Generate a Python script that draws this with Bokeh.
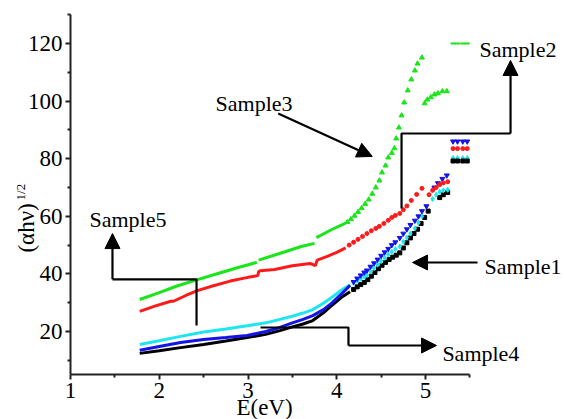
import math
from bokeh.plotting import figure
from bokeh.models import (Range1d, FixedTicker, Arrow, NormalHead, Label, LinearAxis)
from bokeh.embed import file_html
from bokeh.resources import INLINE

nan = float("nan")

# ---------------- data ----------------
# Sample3 (green)
g_line_e = [1.78, 2.0, 2.2, 2.43, 2.7, 2.9, 3.1, nan, 3.12, 3.4, 3.6, 3.75, nan, 3.77, 3.95, 4.1]
g_line_v = [31.1, 33.5, 35.8, 38.0, 40.5, 42.3, 44.0, nan, 44.8, 47.5, 49.5, 50.6, nan, 52.6, 55.5, 57.6]
g_pts_e = [4.12, 4.16, 4.20, 4.24, 4.28, 4.32, 4.36, 4.40, 4.44, 4.48, 4.51, 4.55, 4.58,
           4.62, 4.65, 4.67, 4.70, 4.73, 4.76, 4.80, 4.84, 4.88, 4.91, 4.96]
g_pts_v = [58.0, 59.0, 60.2, 61.5, 62.8, 64.3, 65.8, 67.8, 70.0, 72.4, 75.2, 77.6, 80.4,
           82.0, 83.6, 87.0, 90.8, 95.0, 99.5, 103.7, 107.5, 110.6, 113.0, 115.1]
g2_e = [4.99, 5.02, 5.06, 5.10, 5.14, 5.19, 5.24]
g2_v = [99.2, 100.5, 101.3, 102.3, 102.7, 103.4, 103.4]

# red
r_line_e = [1.78, 1.95, 2.13, 2.16, 2.3, 2.43, 2.6, 2.8, 3.0, 3.11, 3.12, 3.14, 3.3, 3.5,
            3.7, 3.76, 3.78, 3.9, 4.0, 4.1]
r_line_v = [27.0, 28.8, 30.5, 30.5, 32.5, 34.2, 35.8, 37.5, 38.8, 39.4, 40.8, 41.1, 41.5, 42.8,
            43.6, 42.9, 44.8, 46.2, 47.5, 49.0]
r_pts_e = [4.14, 4.19, 4.24, 4.29, 4.34, 4.39, 4.44, 4.48, 4.53, 4.58, 4.62, 4.66, 4.71,
           4.75, 4.79, 4.84, 4.90, 4.96]
r_pts_v = [50.0, 51.0, 52.0, 53.0, 54.0, 55.0, 55.8, 56.5, 57.5, 58.6, 59.6, 60.3, 61.0,
           62.3, 63.6, 65.5, 67.6, 69.7]
r2_e = [5.04, 5.08, 5.12, 5.16, 5.20, 5.25]
r2_v = [67.5, 69.0, 70.0, 71.0, 71.6, 72.0]

# blue
b_line_e = [1.78, 2.0, 2.24, 2.5, 2.75, 2.99, 3.2, 3.36, 3.5, 3.62, 3.73, 3.85, 3.95, 4.05, 4.15]
b_line_v = [13.5, 14.8, 16.2, 17.2, 17.9, 18.6, 20.0, 21.4, 23.0, 24.2, 25.5, 27.6, 30.0, 33.0, 36.0]
b_pts_e = [4.19, 4.23, 4.27, 4.31, 4.34, 4.38, 4.42, 4.46, 4.50, 4.54, 4.58, 4.62, 4.66,
           4.71, 4.75, 4.79, 4.83, 4.88, 4.92, 4.96, 5.01]
b_pts_v = [37.2, 38.4, 39.5, 40.5, 41.2, 42.5, 43.7, 45.0, 46.3, 47.5, 48.7, 50.0, 51.0,
           52.5, 54.0, 55.5, 57.0, 58.5, 60.0, 61.8, 63.5]
b2_e = [5.10, 5.14, 5.19, 5.24]
b2_v = [70.0, 71.5, 73.0, 74.2]

# cyan
c_line_e = [1.78, 2.0, 2.24, 2.5, 2.75, 2.99, 3.2, 3.36, 3.5, 3.62, 3.73, 3.85, 3.95, 4.05, 4.15]
c_line_v = [15.5, 16.8, 18.3, 19.8, 20.9, 22.0, 23.0, 24.2, 25.3, 26.4, 27.6, 29.8, 32.0, 34.3, 36.2]
c_pts_e = [4.19, 4.23, 4.27, 4.31, 4.34, 4.38, 4.42, 4.46, 4.50, 4.54, 4.58, 4.62, 4.66,
           4.71, 4.75, 4.79, 4.83, 4.88, 4.92, 4.96]
c_pts_v = [36.9, 37.6, 38.3, 39.0, 39.6, 40.8, 42.0, 43.2, 44.4, 45.6, 46.7, 47.7, 48.6,
           49.5, 51.2, 52.6, 54.0, 55.8, 57.8, 60.0]
c2_e = [5.08, 5.12, 5.16, 5.20, 5.25]
c2_v = [66.0, 67.5, 68.5, 69.0, 69.2]

# black
k_line_e = [1.78, 2.0, 2.24, 2.5, 2.75, 2.99, 3.2, 3.36, 3.5, 3.62, 3.73, 3.85, 3.95, 4.05, 4.15]
k_line_v = [12.4, 13.3, 14.4, 15.5, 16.7, 17.9, 19.0, 20.3, 21.6, 22.6, 23.8, 26.5, 29.2, 31.8, 33.8]
k_pts_e = [4.19, 4.23, 4.27, 4.31, 4.35, 4.39, 4.43, 4.47, 4.51, 4.55, 4.59, 4.63, 4.67,
           4.71, 4.75, 4.79, 4.83, 4.87, 4.91, 4.95, 4.99, 5.03]
k_pts_v = [34.6, 35.5, 36.3, 37.0, 38.0, 39.2, 40.5, 41.8, 43.0, 44.0, 45.0, 45.8, 46.5,
           47.3, 49.0, 50.8, 52.5, 54.0, 55.5, 57.5, 59.6, 61.8]
k2_e = [5.16, 5.20, 5.25]
k2_v = [66.5, 67.5, 68.3]

# legend-symbol rows at the right
key_e = [5.31, 5.36, 5.42, 5.47]
key_green = 120.0
key_blue = 86.0
key_red = 83.5
key_cyan = 80.2
key_black = 79.2

x_ticks = [1, 2, 3, 4, 5]
x_minor = [1.5, 2.5, 3.5, 4.5, 5.5]
y_ticks = [20, 40, 60, 80, 100, 120]
y_minor = [10, 30, 50, 70, 90, 110, 130]

# ---------------- figure ----------------
FONT = "serif"
GREEN = "#19e619"
RED = "#ff1a1a"
BLUE = "#1414e6"
CYAN = "#1ee6f0"
BLACK = "#000000"

# frame covers the whole canvas; axes are pinned at fixed data locations
p = figure(width=564, height=419, output_backend="svg", toolbar_location=None,
           x_range=Range1d(0.2113, 6.566), y_range=Range1d(-10.56, 134.93),
           x_axis_type=None, y_axis_type=None,
           min_border_left=0, min_border_right=0, min_border_top=0, min_border_bottom=0)
p.outline_line_color = None
p.xgrid.visible = False
p.ygrid.visible = False
p.background_fill_color = "white"

xa = LinearAxis(bounds=(1, 5.5), fixed_location=5.07,
                ticker=FixedTicker(ticks=x_ticks, minor_ticks=x_minor))
ya = LinearAxis(bounds=(5.07, 130), fixed_location=1.0,
                ticker=FixedTicker(ticks=y_ticks, minor_ticks=y_minor))
for ax in (xa, ya):
    ax.axis_line_width = 2
    ax.axis_line_color = "#222222"
    ax.major_tick_line_width = 2
    ax.minor_tick_line_width = 2
    ax.major_tick_line_color = "#222222"
    ax.minor_tick_line_color = "#222222"
    ax.major_tick_in = 0
    ax.major_tick_out = 5
    ax.minor_tick_in = 0
    ax.minor_tick_out = 3
    ax.major_label_text_font = FONT
    ax.major_label_text_font_size = "23px"
    ax.major_label_text_color = "black"
xa.major_label_standoff = 4
ya.major_label_standoff = 3
p.add_layout(xa, "below")
p.add_layout(ya, "left")

def series(le, lv, pe, pv, e2, v2, color, marker, size):
    p.line(le, lv, line_width=3, color=color)
    p.scatter(pe, pv, marker=marker, size=size, color=color)
    p.scatter(e2, v2, marker=marker, size=size, color=color)

series(k_line_e, k_line_v, k_pts_e, k_pts_v, k2_e, k2_v, BLACK, "square", 4)
series(c_line_e, c_line_v, c_pts_e, c_pts_v, c2_e, c2_v, CYAN, "diamond", 5)
series(b_line_e, b_line_v, b_pts_e, b_pts_v, b2_e, b2_v, BLUE, "inverted_triangle", 5)
series(r_line_e, r_line_v, r_pts_e, r_pts_v, r2_e, r2_v, RED, "circle", 4)
series(g_line_e, g_line_v, g_pts_e, g_pts_v, g2_e, g2_v, GREEN, "triangle", 5)

p.scatter(key_e, [key_green] * 4, marker="dash", size=5, line_width=2, color=GREEN)
p.scatter(key_e, [key_blue] * 4, marker="inverted_triangle", size=5, color=BLUE)
p.scatter(key_e, [key_red] * 4, marker="circle", size=4, color=RED)
p.scatter(key_e, [key_cyan] * 4, marker="diamond", size=5, color=CYAN)
p.scatter(key_e, [key_black] * 4, marker="square", size=4, color=BLACK)

# ---------------- annotations ----------------
LW = 2.2
def head():
    return NormalHead(size=15, fill_color="black", line_color="black", line_width=1)

# Sample5
p.line([2.42, 2.42, 1.473], [22.1, 38.1, 38.1], line_width=LW, color="black")
p.add_layout(Arrow(x_start=1.473, y_start=38.1, x_end=1.473, y_end=54.0, end=head(),
                   line_width=LW, line_color="black"))
# Sample3
p.add_layout(Arrow(x_start=3.34, y_start=95.7, x_end=4.40, y_end=80.8, end=head(),
                   line_width=LW, line_color="black"))
# Sample2
p.line([4.73, 4.73, 5.958], [62.7, 88.75, 88.75], line_width=LW, color="black")
p.add_layout(Arrow(x_start=5.958, y_start=88.75, x_end=5.958, y_end=114.1, end=head(),
                   line_width=LW, line_color="black"))
# Sample1
p.add_layout(Arrow(x_start=5.586, y_start=43.96, x_end=4.854, y_end=43.96, end=head(),
                   line_width=LW, line_color="black"))
# Sample4
p.line([3.141, 4.132, 4.132], [21.39, 21.39, 15.14], line_width=LW, color="black")
p.add_layout(Arrow(x_start=4.132, y_start=15.14, x_end=5.124, y_end=15.14, end=head(),
                   line_width=LW, line_color="black"))

def lab(x, y, t, size="22px", **kw):
    p.add_layout(Label(x=x, y=y, text=t, text_font=FONT, text_font_size=size,
                       text_color="black", **kw))

lab(1.214, 58.9, "Sample5", text_baseline="alphabetic")
lab(2.634, 99.2, "Sample3", text_baseline="alphabetic")
lab(5.608, 117.9, "Sample2", text_baseline="alphabetic")
lab(5.665, 42.6, "Sample1", text_baseline="alphabetic")
lab(5.19, 12.36, "Sample4", text_baseline="alphabetic")

# axis titles
lab(3.186, -2.2, "E(eV)", size="23px", text_align="center", text_baseline="top")
lab(0.504, 47.4, "(αhν)", size="23px", angle=math.pi / 2,
    text_align="left", text_baseline="alphabetic")
lab(0.436, 65.5, "1/2", size="13px", angle=math.pi / 2,
    text_align="left", text_baseline="alphabetic")

open("out.html", "w").write(file_html(p, INLINE))
